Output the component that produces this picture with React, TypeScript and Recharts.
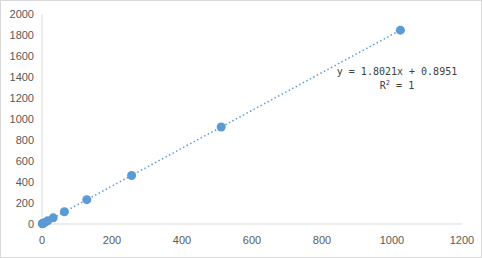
import { ScatterChart, Scatter, XAxis, YAxis } from 'recharts';

// measured points
const xValues = [1, 2, 4, 8, 16, 32, 64, 128, 256, 512, 1024];
const yValues = [2.7, 4.5, 8.1, 15.3, 29.7, 58.6, 116.2, 231.6, 462.2, 923.6, 1846.2];

// trendline shown on the chart
const slope = 1.8021;
const intercept = 0.8951;

const xTicks = [0, 200, 400, 600, 800, 1000, 1200];
const yTicks = [0, 200, 400, 600, 800, 1000, 1200, 1400, 1600, 1800, 2000];

const points = xValues.map((x, i) => ({ x, y: yValues[i] }));
const xMin = Math.min(...xValues);
const xMax = Math.max(...xValues);
const trend = [xMin, xMax].map((x) => ({ x, y: slope * x + intercept }));

const tickStyle = { fill: '#595959', fontSize: 11, fontFamily: 'Liberation Sans, Arial, sans-serif' };

export default function App() {
  return (
    <div
      style={{
        position: 'absolute',
        left: 0,
        top: 0,
        width: 480,
        height: 256,
        border: '1px solid #d9d9d9',
        background: '#fff',
      }}
    >
      <div style={{ position: 'absolute', left: -1, top: -1 }}>
        <ScatterChart width={482} height={258} margin={{ top: 14, right: 20, bottom: 0, left: 0 }}>
          <XAxis
            type="number"
            dataKey="x"
            domain={[0, 1200]}
            ticks={xTicks}
            tick={tickStyle}
            tickLine={false}
            axisLine={{ stroke: '#d9d9d9' }}
            tickMargin={6}
            height={34}
          />
          <YAxis
            type="number"
            dataKey="y"
            domain={[0, 2000]}
            ticks={yTicks}
            tick={tickStyle}
            tickLine={false}
            axisLine={{ stroke: '#d9d9d9' }}
            width={42}
          />
          <Scatter
            data={trend}
            line={{ stroke: '#5b9bd5', strokeWidth: 1.5, strokeDasharray: '1.5 2.5' }}
            shape={() => null}
            isAnimationActive={false}
          />
          <Scatter data={points} fill="#5b9bd5" shape="circle" isAnimationActive={false}>
          </Scatter>
        </ScatterChart>
      </div>
      <div
        style={{
          position: 'absolute',
          left: 335,
          top: 64,
          width: 122,
          textAlign: 'center',
          fontFamily: 'DejaVu Sans Mono, monospace',
          fontSize: 10,
          lineHeight: '14px',
          color: '#404040',
        }}
      >
        <div>y = 1.8021x + 0.8951</div>
        <div>
          R<sup style={{ fontSize: 7, lineHeight: 0 }}>2</sup> = 1
        </div>
      </div>
    </div>
  );
}
